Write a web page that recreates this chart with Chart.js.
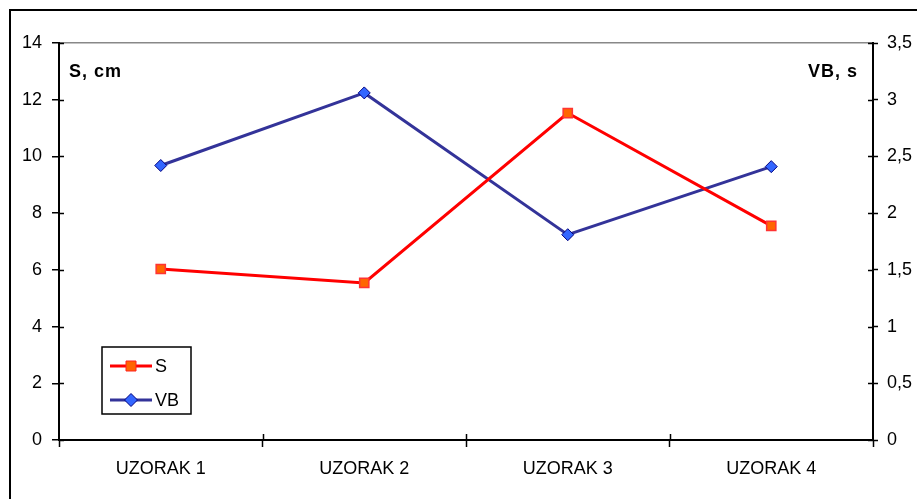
<!DOCTYPE html>
<html>
<head>
<meta charset="utf-8">
<script src="https://cdn.jsdelivr.net/npm/chart.js@4"></script>
<style>
  html, body { margin: 0; padding: 0; background: #fff; }
  #wrap { width: 917px; height: 499px; position: relative; }
</style>
</head>
<body>
<div id="wrap"><canvas id="myChart" width="917" height="499"></canvas></div>
<script>
const categories = ['UZORAK 1', 'UZORAK 2', 'UZORAK 3', 'UZORAK 4'];
const sValues = [6.03, 5.54, 11.53, 7.55];
const vbValues = [2.42, 3.06, 1.81, 2.41];
const leftTitle = 'S, cm';
const rightTitle = 'VB, s';

const FONT = '"Liberation Sans", Arial, sans-serif';

// frame, axis titles, inner tick halves and the legend box
const extras = {
    id: 'extras',
    afterDraw(chart) {
        const ctx = chart.ctx;
        const area = chart.chartArea;
        const yL = chart.scales.y;
        const yR = chart.scales.y1;
        const x = chart.scales.x;
        ctx.save();

        // outer frame (cut off at right and bottom)
        ctx.strokeStyle = '#000';
        ctx.lineWidth = 2;
        ctx.beginPath();
        ctx.moveTo(10, 510);
        ctx.lineTo(10, 10);
        ctx.lineTo(930, 10);
        ctx.stroke();

        // inner halves of the tick marks
        ctx.lineWidth = 1.5;
        ctx.beginPath();
        yL.ticks.forEach((t) => {
            const py = Math.round(yL.getPixelForValue(t.value)) + 0.5;
            ctx.moveTo(area.left, py);
            ctx.lineTo(area.left + 5, py);
        });
        yR.ticks.forEach((t) => {
            const py = Math.round(yR.getPixelForValue(t.value)) + 0.5;
            ctx.moveTo(area.right, py);
            ctx.lineTo(area.right - 5, py);
        });
        for (let i = 1; i < categories.length; i++) {
            const px = Math.round((x.getPixelForValue(i - 1) + x.getPixelForValue(i)) / 2) + 0.5;
            ctx.moveTo(px, area.bottom);
            ctx.lineTo(px, area.bottom - 6);
        }
        ctx.stroke();

        // axis titles
        ctx.fillStyle = '#000';
        ctx.font = 'bold 18px ' + FONT;
        ctx.letterSpacing = '1px';
        ctx.textBaseline = 'middle';
        ctx.textAlign = 'left';
        ctx.fillText(leftTitle, area.left + 10, 72);
        ctx.textAlign = 'right';
        ctx.fillText(rightTitle, area.right - 15, 72);
        ctx.letterSpacing = '0px';

        // legend
        const lx = 102, ly = 347, lw = 89, lh = 67;
        ctx.fillStyle = '#fff';
        ctx.fillRect(lx, ly, lw, lh);
        ctx.strokeStyle = '#000';
        ctx.lineWidth = 1.5;
        ctx.strokeRect(lx, ly, lw, lh);
        const items = [
            { label: chart.data.datasets[0].label, line: '#ff0000', fill: '#ff6600', edge: '#ff2020', shape: 'rect', y: ly + 19 },
            { label: chart.data.datasets[1].label, line: '#333399', fill: '#3366ff', edge: '#000080', shape: 'rectRot', y: ly + 53 }
        ];
        items.forEach((it) => {
            ctx.strokeStyle = it.line;
            ctx.lineWidth = 3;
            ctx.beginPath();
            ctx.moveTo(lx + 8, it.y);
            ctx.lineTo(lx + 50, it.y);
            ctx.stroke();
            ctx.fillStyle = it.fill;
            ctx.strokeStyle = it.edge;
            ctx.lineWidth = 1;
            const cx = lx + 29;
            ctx.beginPath();
            if (it.shape === 'rect') {
                ctx.rect(cx - 5, it.y - 5, 10, 10);
            } else {
                ctx.moveTo(cx, it.y - 6.5);
                ctx.lineTo(cx + 6.5, it.y);
                ctx.lineTo(cx, it.y + 6.5);
                ctx.lineTo(cx - 6.5, it.y);
                ctx.closePath();
            }
            ctx.fill();
            ctx.stroke();
            ctx.fillStyle = '#000';
            ctx.font = '18px ' + FONT;
            ctx.textAlign = 'left';
            ctx.textBaseline = 'middle';
            ctx.fillText(it.label, lx + 53, it.y + 1);
        });

        ctx.restore();
    }
};

new Chart(document.getElementById('myChart').getContext('2d'), {
    type: 'line',
    data: {
        labels: categories,
        datasets: [{
            label: 'S',
            data: sValues,
            yAxisID: 'y',
            borderColor: '#ff0000',
            borderWidth: 3,
            backgroundColor: '#ff6600',
            pointStyle: 'rect',
            pointRadius: 6.5,
            pointBorderColor: '#ff3333',
            pointBorderWidth: 1.5,
            tension: 0
        }, {
            label: 'VB',
            data: vbValues,
            yAxisID: 'y1',
            borderColor: '#333399',
            borderWidth: 3,
            backgroundColor: '#3366ff',
            pointStyle: 'rectRot',
            pointRadius: 6,
            pointBorderColor: '#000080',
            pointBorderWidth: 1,
            tension: 0
        }]
    },
    options: {
        responsive: false,
        animation: false,
        layout: { padding: { top: 43, left: 0, right: 0, bottom: 0 } },
        plugins: {
            legend: { display: false },
            tooltip: { enabled: false }
        },
        scales: {
            x: {
                offset: true,
                grid: { offset: true, drawOnChartArea: false, tickLength: 7, tickColor: '#000', tickWidth: 1.5 },
                border: { color: '#000', width: 2 },
                ticks: { color: '#000', font: { family: FONT, size: 18 }, padding: 11, maxRotation: 0 },
                afterFit: (s) => { s.height = 59; }
            },
            y: {
                position: 'left',
                min: 0,
                max: 14,
                ticks: { stepSize: 2, color: '#000', font: { family: FONT, size: 18 }, padding: 10 },
                grid: {
                    color: (c) => (c.tick && c.tick.value === 14 ? '#888' : 'rgba(0,0,0,0)'),
                    tickColor: '#000',
                    tickLength: 7,
                    lineWidth: 1.5,
                    tickWidth: 1.5
                },
                border: { color: '#000', width: 2 },
                afterFit: (s) => { s.width = 59; }
            },
            y1: {
                position: 'right',
                min: 0,
                max: 3.5,
                ticks: {
                    stepSize: 0.5,
                    color: '#000',
                    font: { family: FONT, size: 18 },
                    padding: 9,
                    callback: (v) => String(v).replace('.', ',')
                },
                grid: { drawOnChartArea: false, tickColor: '#000', tickLength: 5, tickWidth: 1.5 },
                border: { color: '#000', width: 2 },
                afterFit: (s) => { s.width = 44; }
            }
        }
    },
    plugins: [extras]
});
</script>
</body>
</html>
